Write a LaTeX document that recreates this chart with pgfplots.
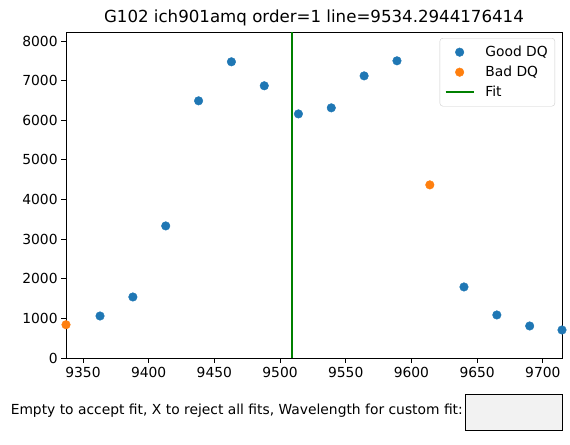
\documentclass[border=0pt]{standalone}
\usepackage{fontspec}
\setmainfont{DejaVu Sans}
\usepackage{pgfplots}
\pgfplotsset{compat=1.18}
\definecolor{mblue}{HTML}{1F77B4}
\definecolor{morange}{HTML}{FF7F0E}
\definecolor{mgreen}{HTML}{008000}
\begin{document}
\begin{tikzpicture}
\useasboundingbox (0,0) rectangle (570bp,445bp);
\begin{axis}[
  at={(66bp,87bp)}, anchor=south west,
  width=496bp, height=326bp, scale only axis,
  xmin=9337.1, xmax=9714.6, ymin=0, ymax=8227,
  xtick={9350,9400,9450,9500,9550,9600,9650,9700},
  ytick={0,1000,2000,3000,4000,5000,6000,7000,8000},
  xtick pos=bottom, ytick pos=left,
  tick align=outside, major tick length=4.9bp,
  scaled ticks=false,
  /pgf/number format/1000 sep={},
  /pgf/number format/assume math mode=true,
  tick label style={font=\fontsize{13.9}{16}\selectfont},
  xticklabel style={yshift=-0.5bp},
  axis line style={line width=0.8bp},
  every tick/.style={line width=0.8bp, black},
  legend image code/.code={\draw[mark repeat=2,mark phase=2,#1] plot coordinates {(0bp,0bp) (14bp,0bp) (28bp,0bp)};},
  legend style={at={(1,1)}, anchor=north east, xshift=-7bp, yshift=-6bp,
    draw=black!20, rounded corners=3bp, font=\fontsize{13.9}{16}\selectfont,
    legend cell align=left, row sep=4bp, inner xsep=5bp, inner ysep=6bp,
    /tikz/every odd column/.append style={column sep=9bp}},
]
\addplot[only marks, mark=*, mark size=4.3bp, mblue, mark options={draw=mblue, fill=mblue}] coordinates {
(9363,1060) (9388,1540) (9413,3333) (9438,6490) (9463,7475) (9488,6870)
(9514,6160) (9539,6313) (9564,7120) (9589,7500) (9640,1793) (9665,1086)
(9690,808) (9714.6,707)
};
\addlegendentry{Good DQ}
\addplot[only marks, mark=*, mark size=4.3bp, morange, mark options={draw=morange, fill=morange}] coordinates {
(9337.1,840) (9614,4369)
};
\addlegendentry{Bad DQ}
\addplot[mgreen, line width=1.5bp] coordinates {(9509,0) (9509,8227)};
\addlegendentry{Fit}
\end{axis}
\node[font=\fontsize{16.7}{19}\selectfont] at (314bp,427bp) {G102 ich901amq order=1 line=9534.2944176414};
\node[font=\fontsize{13.9}{16}\selectfont, anchor=east, inner sep=0pt] at (463bp,34bp) {Empty to accept fit, X to reject all fits, Wavelength for custom fit:};
\draw[fill=black!5, line width=0.8bp] (465bp,15bp) rectangle (562bp,51bp);
\end{tikzpicture}
\end{document}
